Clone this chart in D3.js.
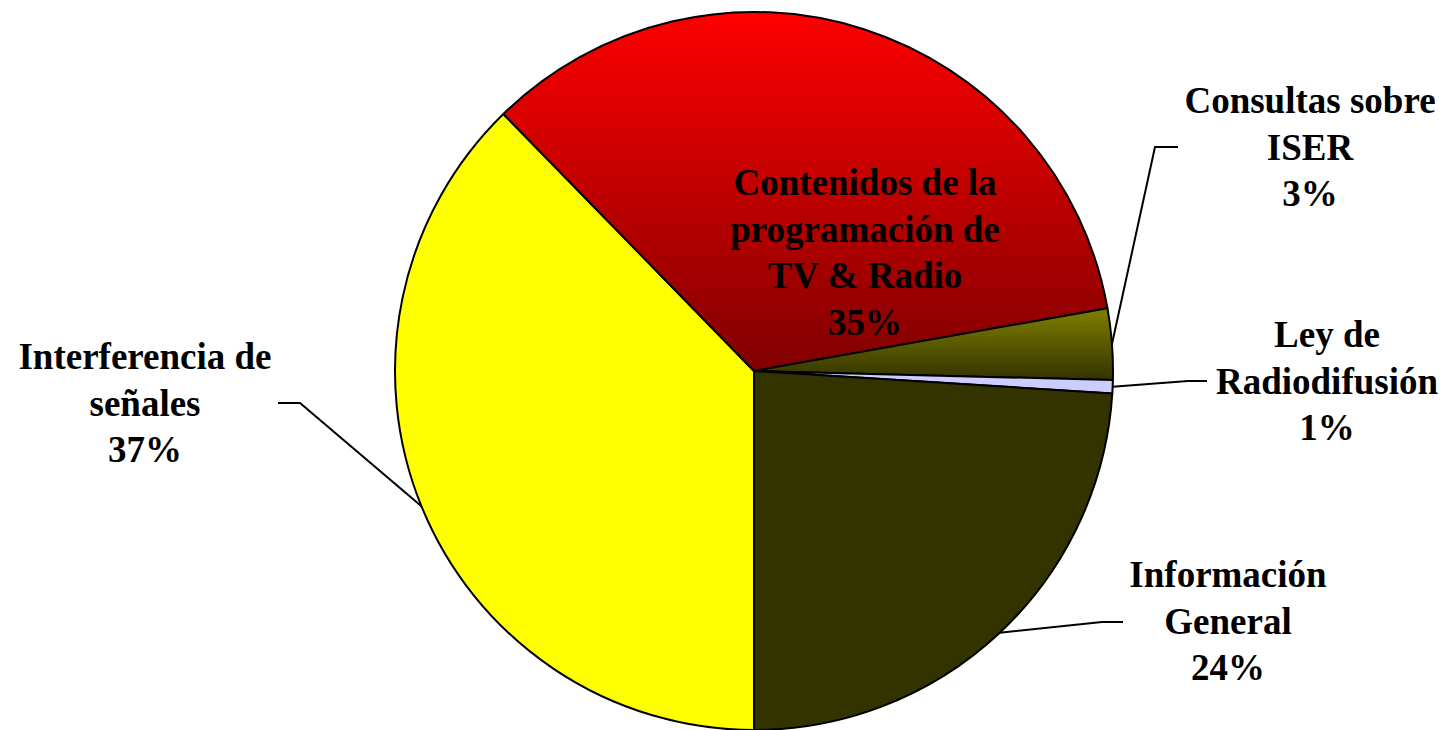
<!DOCTYPE html>
<html>
<head>
<meta charset="utf-8">
<script src="https://cdn.jsdelivr.net/npm/d3@7"></script>
<style>
  html, body { margin: 0; padding: 0; background: #fff; }
  text { font-family: "Liberation Serif", "Times New Roman", serif; font-weight: bold; }
</style>
</head>
<body>
<div></div>
<script>
// data
var categories = [
    ["Interferencia de", "señales"],
    ["Contenidos de la", "programación de", "TV & Radio"],
    ["Consultas sobre", "ISER"],
    ["Ley de", "Radiodifusión"],
    ["Información", "General"]
];
var values = [37.7, 34.5, 3.2, 0.6, 24.0];
var pctLabels = ["37%", "35%", "3%", "1%", "24%"];

var width = 1447,
    height = 730,
    cx = 754,
    cy = 371,
    radius = 359;

// where each label block sits (text centre x, first baseline y), plus the leader elbow
var labelPos = [
    {x: 145, y: 369, elbow: [300, 403], end: [278, 403]},
    {x: 865, y: 195, elbow: null},
    {x: 1310, y: 113, elbow: [1155, 147], end: [1178, 147]},
    {x: 1327, y: 347, elbow: [1188, 381], end: [1207, 381]},
    {x: 1228, y: 587, elbow: [1102, 622], end: [1123, 622]}
];
var lineH = 46.7;

var svg = d3.select("div")
    .append("svg")
    .attr("width", width)
    .attr("height", height);

var defs = svg.append("defs");
function grad(id, c1, c2) {
    var lg = defs.append("linearGradient")
        .attr("id", id)
        .attr("x1", 0).attr("y1", 0)
        .attr("x2", 0).attr("y2", 1);
    lg.append("stop").attr("offset", "0%").attr("stop-color", c1);
    lg.append("stop").attr("offset", "100%").attr("stop-color", c2);
}
grad("gRed", "#ff0000", "#800000");
grad("gOlive", "#808000", "#333300");

var fills = ["#ffff00", "url(#gRed)", "url(#gOlive)", "#ccccff", "#333300"];

var pie = d3.pie()
    .sort(null)
    .startAngle(Math.PI)
    .endAngle(3 * Math.PI);

var arcs = pie(values);

var arc = d3.arc()
    .innerRadius(0)
    .outerRadius(radius);

var g = svg.append("g")
    .attr("transform", "translate(" + cx + "," + cy + ")");

g.selectAll("path")
    .data(arcs)
    .enter().append("path")
    .attr("d", arc)
    .attr("fill", function (d, i) { return fills[i]; })
    .attr("stroke", "#000")
    .attr("stroke-width", 2)
    .attr("stroke-linejoin", "round");

// leader lines from the slice edge at its mid angle
arcs.forEach(function (d, i) {
    var p = labelPos[i];
    if (!p.elbow) return;
    var a = (d.startAngle + d.endAngle) / 2;
    var sx = cx + radius * Math.sin(a),
        sy = cy - radius * Math.cos(a);
    svg.append("polyline")
        .attr("points", [[sx, sy], p.elbow, p.end].map(function (q) { return q.join(","); }).join(" "))
        .attr("fill", "none")
        .attr("stroke", "#000")
        .attr("stroke-width", 2);
});

// labels
categories.forEach(function (lines, i) {
    var p = labelPos[i];
    var t = svg.append("text")
        .attr("text-anchor", "middle")
        .attr("font-size", 37)
        .attr("fill", "#000");
    lines.concat([pctLabels[i]]).forEach(function (s, k) {
        t.append("tspan")
            .attr("x", p.x)
            .attr("y", p.y + k * lineH)
            .text(s);
    });
});
</script>
</body>
</html>
